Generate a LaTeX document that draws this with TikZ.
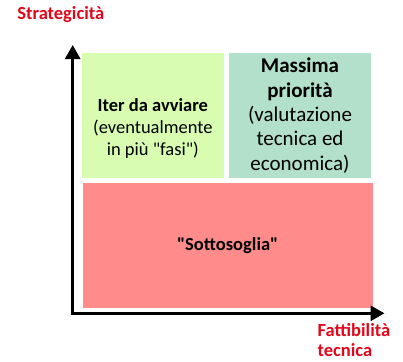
\documentclass[tikz,border=0pt]{standalone}
\usepackage{fontspec}
\setmainfont{Carlito}
\newfontfamily\qfont{Carlito}
\usetikzlibrary{arrows.meta}
\definecolor{boxgreen}{RGB}{216,252,176}
\definecolor{boxteal}{RGB}{178,224,203}
\definecolor{boxred}{RGB}{255,140,138}
\definecolor{axisred}{RGB}{226,6,26}
\newcommand{\dq}{{\qfont\char34}}
\tikzset{
  quad/.style={draw=none, inner sep=0pt, outer sep=0pt},
  body/.style={align=center, inner sep=0pt, font=\fontsize{18.5}{21.7}\selectfont},
  bigbody/.style={align=center, inner sep=0pt, font=\fontsize{21}{24.3}\selectfont},
  axislabel/.style={text=axisred, inner sep=0pt, font=\fontsize{18.5}{20}\selectfont\bfseries},
  axis/.style={line width=3pt, -{Triangle[width=15pt,length=14pt]}},
}
\begin{document}
\begin{tikzpicture}[x=1pt,y=-1pt]
\useasboundingbox (0,0) rectangle (403,361);
% quadrant boxes
\node[quad, fill=boxgreen, minimum width=141.7pt, minimum height=125pt] (g) at (152.85,115.2) {};
\node[quad, fill=boxteal, minimum width=142pt, minimum height=125pt] (t) at (300,115.2) {};
\node[quad, fill=boxred, minimum width=290pt, minimum height=125pt] (r) at (227.7,245.2) {};
% texts
\node[body] (gtxt) at (152.85,128.3) {\textbf{Iter da avviare}\\(eventualmente\\in più \dq fasi\dq)};
\node[bigbody] (ttxt) at (300,115.5) {\textbf{Massima}\\\textbf{priorità}\\(valutazione\\tecnica ed\\economica)};
\node[body] (rtxt) at (227.7,246) {\textbf{\dq Sottosoglia\dq}};
% axes
\coordinate (O) at (72.7,313.3);
\coordinate (ytip) at (72.7,45);
\coordinate (xtip) at (384.5,313.3);
\draw[axis] (O) -- (ytip);
\draw[axis] (O) -- (xtip);
\draw[line width=3pt] (71.2,313.3) -- (74,313.3);
% axis labels
\node[axislabel] (ylab) at (60.8,15) {Strategicità};
\node[axislabel, anchor=west, align=left] (xlab) at (317.5,340) {Fattibilità\\tecnica};
\end{tikzpicture}
\end{document}
